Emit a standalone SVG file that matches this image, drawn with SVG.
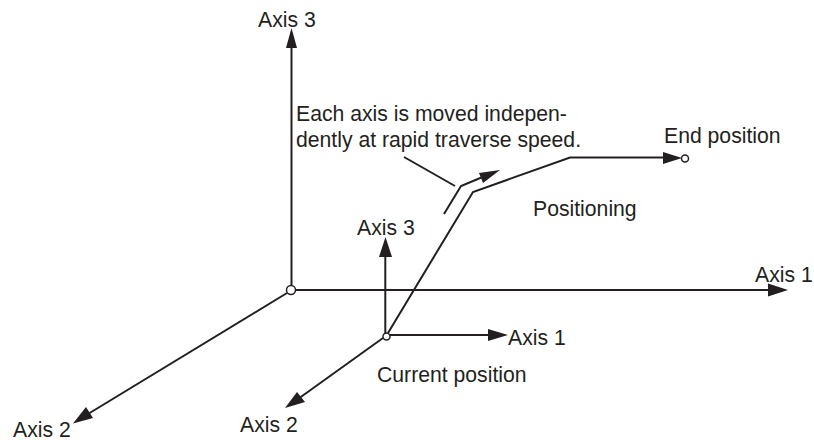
<svg xmlns="http://www.w3.org/2000/svg" width="814" height="440" viewBox="0 0 814 440">
<style>
.c{fill:none;stroke:#231f20;stroke-width:2}
.a{fill:#231f20;stroke:none}
.n{fill:#fff;stroke:#231f20;stroke-width:1.5}
text{font-family:"Liberation Sans",Arial,sans-serif;font-size:21.2px;fill:#231f20}
</style>
<rect width="814" height="440" fill="#fff"/>
<g id="connectors">
<path class="c" d="M291.500 285V45"/><path class="a" d="M291.500 28L297 48H286Z"/>
<path class="c" d="M296 290H772"/><path class="a" d="M788 290L768 283.500V296.500Z"/>
<path class="c" d="M287 293L88 414"/><path class="a" d="M73 423.500L86 407L93 418Z"/>
<path class="c" d="M385.300 333V252"/><path class="a" d="M385.500 237L392 257H379Z"/>
<path class="c" d="M390 335H492"/><path class="a" d="M508 335L488 329V341Z"/>
<path class="c" d="M383 338L298 399"/><path class="a" d="M285 408L297 392L305 402Z"/>
<path class="c" d="M388 333L473 192L570 157.500H668"/><path class="a" d="M682 158L663 152V164Z"/>
<path class="c" d="M444 214L461 186L485 176"/><path class="a" d="M500 170L479 173L483 183Z"/>
<path class="c" d="M404 157L455 186"/>
</g>
<g id="origin"><circle class="n" cx="291" cy="290" r="4.500"/></g>
<g id="current"><circle class="n" cx="386.500" cy="336.500" r="3.500"/><text x="377" y="382">Current position</text></g>
<g id="end"><circle class="n" cx="685" cy="158.500" r="3.500"/><text x="664" y="143">End position</text></g>
<g id="axis3-main"><text x="258" y="27">Axis 3</text></g>
<g id="axis1-main"><text x="755" y="282">Axis 1</text></g>
<g id="axis2-main"><text x="13" y="437">Axis 2</text></g>
<g id="axis3-local"><text x="357" y="235">Axis 3</text></g>
<g id="axis1-local"><text x="508" y="345">Axis 1</text></g>
<g id="axis2-local"><text x="240" y="432">Axis 2</text></g>
<g id="note"><text x="296" y="121">Each axis is moved indepen-</text><text x="296" y="147">dently at rapid traverse speed.</text></g>
<g id="positioning"><text x="533" y="216">Positioning</text></g>
</svg>
